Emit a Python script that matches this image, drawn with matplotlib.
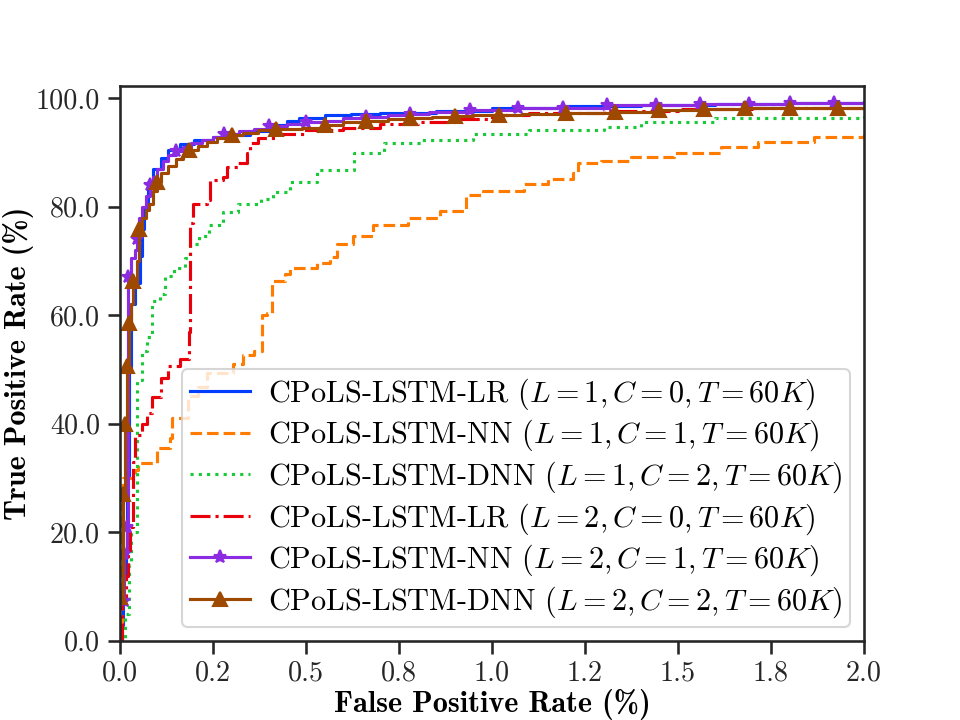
import matplotlib
matplotlib.use("Agg")
import matplotlib.pyplot as plt
from matplotlib.ticker import FormatStrFormatter, MultipleLocator

# ROC points (FPR %, TPR %), drawn as steps
fpr_lr1 = [0, 0.002, 0.008, 0.015, 0.02, 0.025, 0.03, 0.04, 0.055, 0.06, 0.065, 0.075, 0.09, 0.11,
           0.13, 0.16, 0.2, 0.25, 0.3, 0.35, 0.4, 0.45, 0.48, 0.55, 0.62, 0.7, 0.85, 1.0, 1.2, 1.4,
           1.6, 1.8, 2.0]
tpr_lr1 = [0, 3, 12, 16, 30, 50, 62, 66, 71, 76, 80, 84.5, 87, 89,
           90.5, 91.5, 92.3, 92.8, 93.2, 94.0, 95.0, 95.8, 96.3, 96.9, 97.1, 97.3, 97.7, 98.2, 98.5, 98.7,
           98.9, 99.1, 99.3]

fpr_nn1 = [0, 0.005, 0.008, 0.04, 0.048, 0.1, 0.135, 0.14, 0.183, 0.21, 0.234, 0.304, 0.331, 0.36,
           0.382, 0.396, 0.409, 0.444, 0.458, 0.53, 0.565, 0.584, 0.627, 0.681, 0.773, 0.861, 0.929,
           0.977, 1.085, 1.15, 1.219, 1.23, 1.292, 1.373, 1.489, 1.615, 1.715, 1.865, 2.0]
tpr_nn1 = [0, 25, 30, 31.4, 32.8, 35.6, 37.3, 41, 45.2, 46.7, 49.4, 51.1, 52.6, 53.5,
           60, 60.5, 66.4, 67.7, 68.8, 69.6, 70.7, 73.2, 74.7, 76.6, 77.9, 79.3, 82.1,
           83, 84.3, 85.2, 86.2, 88, 88.4, 89.1, 90, 91, 91.9, 92.8, 93.5]

fpr_dnn1 = [0, 0.013, 0.024, 0.03, 0.045, 0.047, 0.06, 0.073, 0.086, 0.108, 0.121, 0.145, 0.175,
            0.188, 0.213, 0.24, 0.278, 0.317, 0.38, 0.41, 0.458, 0.53, 0.63, 0.71, 0.81, 0.95,
            1.1, 1.3, 1.4, 1.6, 2.0]
tpr_dnn1 = [0, 5, 14, 20, 29, 48, 53.5, 56, 62.7, 64, 67.3, 68.8, 70.5,
            73.2, 74.7, 76.6, 79, 80.5, 81.5, 82.7, 84.5, 86.7, 90, 91.7, 92.3, 93.5,
            94.1, 94.8, 95.6, 96.3, 96.7]

fpr_lr2 = [0, 0.005, 0.015, 0.022, 0.027, 0.035, 0.04, 0.06, 0.072, 0.085, 0.11, 0.13, 0.16, 0.185,
           0.188, 0.197, 0.234, 0.242, 0.278, 0.288, 0.318, 0.342, 0.35, 0.37, 0.42, 0.5, 0.6,
           0.7, 0.8, 0.9, 1.0, 1.1, 1.3, 1.5, 1.7, 2.0]
tpr_lr2 = [0, 8, 12, 16, 21, 33, 38, 40, 42, 45, 48.5, 50.7, 52, 57,
           77, 80.5, 81.2, 85, 85.5, 87.3, 88, 90, 91.7, 92.6, 93.5, 94.2, 94.6,
           95.2, 95.7, 96.2, 97.0, 97.3, 97.7, 98.0, 98.2, 98.4]

fpr_nn2 = [0.01, 0.012, 0.018, 0.022, 0.03, 0.04, 0.045, 0.05, 0.06, 0.07, 0.08, 0.09, 0.1, 0.115,
           0.13, 0.15, 0.17, 0.19, 0.22, 0.25, 0.28, 0.32, 0.36, 0.4, 0.45, 0.5, 0.55, 0.6, 0.66,
           0.72, 0.78, 0.83, 0.94, 1.07, 1.19, 1.31, 1.44, 1.56, 1.69, 1.8, 1.92, 2.0]
tpr_nn2 = [7.4, 16, 21, 67, 70.5, 72, 74, 78, 80, 82, 84, 85.5, 87, 88.5,
           89.5, 90.3, 91, 91.8, 92.4, 92.9, 93.4, 93.9, 94.4, 94.9, 95.3, 95.6, 95.9, 96.3, 96.6,
           96.9, 97.1, 97.4, 97.9, 98.2, 98.3, 98.7, 98.8, 98.9, 99.0, 99.1, 99.2, 99.2]

fpr_dnn2 = [0, 0.008, 0.013, 0.02, 0.024, 0.03, 0.035, 0.045, 0.051, 0.06, 0.07, 0.078, 0.09, 0.1,
            0.11, 0.13, 0.15, 0.17, 0.186, 0.21, 0.235, 0.26, 0.3, 0.33, 0.37, 0.42, 0.49, 0.55,
            0.6, 0.66, 0.72, 0.78, 0.84, 0.9, 0.95, 1.02, 1.08, 1.2, 1.33, 1.45, 1.57, 1.68, 1.8,
            1.93, 2.0]
tpr_dnn2 = [8, 27, 40, 50.7, 58.5, 62, 66.4, 70, 76, 78, 79.5, 80.6, 83, 84.5,
            86.2, 87.5, 88.8, 89.6, 90.4, 91.2, 92, 92.6, 93.3, 93.7, 94.1, 94.3, 94.6, 95.1,
            95.6, 95.8, 96.1, 96.3, 96.5, 96.7, 96.9, 97.0, 97.2, 97.3, 97.4, 97.8, 98.0, 98.2, 98.2,
            98.3, 98.3]

labels = [
    r"CPoLS-LSTM-LR ($L=1, C=0, T=60K$)",
    r"CPoLS-LSTM-NN ($L=1, C=1, T=60K$)",
    r"CPoLS-LSTM-DNN ($L=1, C=2, T=60K$)",
    r"CPoLS-LSTM-LR ($L=2, C=0, T=60K$)",
    r"CPoLS-LSTM-NN ($L=2, C=1, T=60K$)",
    r"CPoLS-LSTM-DNN ($L=2, C=2, T=60K$)",
]
colors = ["#023eff", "#ff7c00", "#1ac938", "#e8000b", "#8b2be2", "#9f4800"]

plt.rcParams.update({
    "font.family": ["cmr10", "DejaVu Serif"],
    "mathtext.fontset": "cm",
    "axes.formatter.use_mathtext": True,
    "axes.edgecolor": ".15",
    "axes.linewidth": 1.25,
    "xtick.color": ".15",
    "ytick.color": ".15",
    "xtick.major.size": 6,
    "ytick.major.size": 6,
    "xtick.major.width": 1.25,
    "ytick.major.width": 1.25,
    "xtick.labelsize": 13.5,
    "ytick.labelsize": 13.5,
})

fig, ax = plt.subplots(figsize=(6.4, 4.8), dpi=150)

ax.plot(fpr_lr1, tpr_lr1, color=colors[0], ls="-", lw=1.5, drawstyle="steps-post", label=labels[0])
ax.plot(fpr_nn1, tpr_nn1, color=colors[1], ls="--", lw=1.5, drawstyle="steps-post", label=labels[1])
ax.plot(fpr_dnn1, tpr_dnn1, color=colors[2], ls=":", lw=1.5, drawstyle="steps-post", label=labels[2])
ax.plot(fpr_lr2, tpr_lr2, color=colors[3], ls="-.", lw=1.5, drawstyle="steps-post", label=labels[3])
ax.plot(fpr_nn2, tpr_nn2, color=colors[4], ls="-", lw=1.5, drawstyle="steps-post",
        marker="*", ms=6.5, markevery=0.05, label=labels[4])
ax.plot(fpr_dnn2, tpr_dnn2, color=colors[5], ls="-", lw=1.5, drawstyle="steps-post",
        marker="^", ms=7, markevery=0.05, label=labels[5])

ax.set_xlim(0, 2.0)
ax.set_ylim(0, 102.2)
ax.xaxis.set_major_locator(MultipleLocator(0.25))
ax.yaxis.set_major_locator(MultipleLocator(20))
ax.xaxis.set_major_formatter(FormatStrFormatter("%.1f"))
ax.yaxis.set_major_formatter(FormatStrFormatter("%.1f"))

ax.set_xlabel("False Positive Rate (%)", fontfamily="cmb10", fontsize=14.5, labelpad=1)
ax.set_ylabel("True Positive Rate (%)", fontfamily="cmb10", fontsize=14.5, labelpad=1)

ax.legend(loc="lower right", fontsize=14.5, labelspacing=0.2, borderpad=0.25,
          handletextpad=0.6, borderaxespad=0.45)

fig.savefig("out.png", dpi=150)
